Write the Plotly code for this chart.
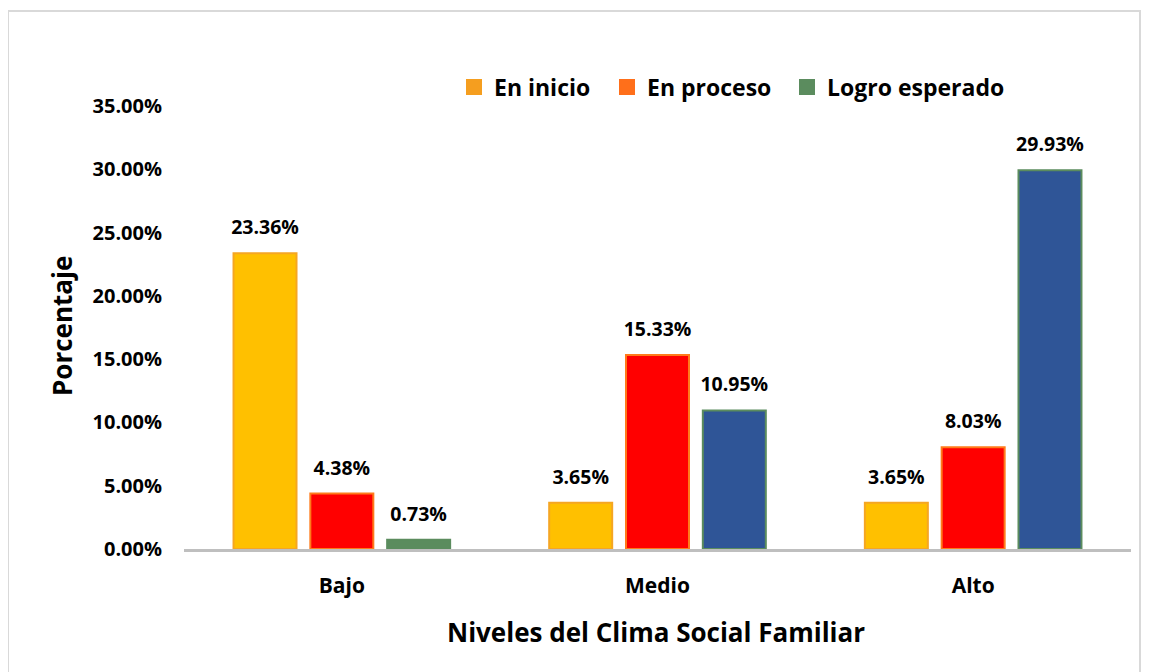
import plotly.graph_objects as go

categories = ["Bajo", "Medio", "Alto"]
series_names = ["En inicio", "En proceso", "Logro esperado"]
en_inicio = [23.36, 3.65, 3.65]
en_proceso = [4.38, 15.33, 8.03]
logro_esperado = [0.73, 10.95, 29.93]
y_ticks = [0, 5, 10, 15, 20, 25, 30, 35]
y_tick_labels = [f"{v:.2f}%" for v in y_ticks]

bar_colors = [
    ["#FFC000", "#FFC000", "#FFC000"],
    ["#FF0000", "#FF0000", "#FF0000"],
    ["#5B8C5E", "#2F5597", "#2F5597"],
]
edge_colors = [
    ["#F5A623", "#F5A623", "#F5A623"],
    ["#FF7A1A", "#FF7A1A", "#FF7A1A"],
    ["#5B8C5E", "#5B8C5E", "#5B8C5E"],
]
legend_colors = ["#F59E1F", "#FF6F1A", "#5B8C5E"]

FONT = "Open Sans"
values = [en_inicio, en_proceso, logro_esperado]

# page body has an 8px margin; plot area on screen: x 184..1131, y 106..549
W, H = 1141, 664
PL, PR, PT, PB = 184, 1131, 106, 549
OFF = 8


def px(sx):
    return (sx - PL) / (PR - PL)


def py(sy):
    return (PB - sy) / (PB - PT)


legend_ids = ["legend", "legend2", "legend3"]
legend_x = [454, 607, 787]

fig = go.Figure()
for i, name in enumerate(series_names):
    fig.add_trace(go.Bar(
        x=categories, y=values[i], name=name, showlegend=False,
        marker=dict(color=bar_colors[i], line=dict(color=edge_colors[i], width=2)),
        texttemplate="<span style='font-size:19.5px'><b>%{y:.2f}%</b></span><br> ",
        textposition="outside",
        constraintext="none", cliponaxis=False,
        textfont=dict(family=FONT, size=10, color="#000000"),
    ))
for i, name in enumerate(series_names):
    fig.add_trace(go.Scatter(
        x=[None], y=[None], mode="markers", name=name, legend=legend_ids[i],
        marker=dict(symbol="square", size=16, color=legend_colors[i]),
    ))

legend_common = dict(orientation="h", xanchor="left", yanchor="middle", y=py(87),
                     font=dict(family=FONT, size=23, color="#000000", weight="bold"),
                     itemwidth=30, bgcolor="rgba(0,0,0,0)")

fig.update_layout(
    width=W, height=H,
    margin=dict(l=PL - OFF, r=W - (PR - OFF), t=PT - OFF, b=H - (PB - OFF), autoexpand=False),
    paper_bgcolor="white", plot_bgcolor="white",
    barmode="group", bargap=0.27, bargroupgap=0.18,
    font=dict(family=FONT, color="#000000"),
    legend=dict(x=px(legend_x[0]), **legend_common),
    legend2=dict(x=px(legend_x[1]), **legend_common),
    legend3=dict(x=px(legend_x[2]), **legend_common),
    xaxis=dict(showline=True, linecolor="#BFBFBF", linewidth=3, ticks="",
               automargin=False, ticklabelstandoff=16,
               tickfont=dict(family=FONT, size=21, weight="bold")),
    yaxis=dict(range=[0, 35], tickvals=y_ticks, ticktext=y_tick_labels,
               showgrid=False, zeroline=False, showline=False, ticks="",
               automargin=False, ticklabelstandoff=21,
               tickfont=dict(family=FONT, size=20, weight="bold")),
    annotations=[
        dict(text="<b>Niveles del Clima Social Familiar</b>", xref="paper", yref="paper",
             x=px(656), y=py(632), xanchor="center", yanchor="middle",
             showarrow=False, font=dict(family=FONT, size=26, color="#000000")),
        dict(text="<b>Porcentaje</b>", xref="paper", yref="paper",
             x=px(62), y=py(326), xanchor="center", yanchor="middle",
             textangle=-90, showarrow=False, font=dict(family=FONT, size=26, color="#000000")),
    ],
    shapes=[dict(type="rect", xref="paper", yref="paper",
                 x0=px(8), x1=px(1140), y0=py(700), y1=py(11),
                 line=dict(color="#D9D9D9", width=2), layer="below")],
)

fig.write_html("out.html")
